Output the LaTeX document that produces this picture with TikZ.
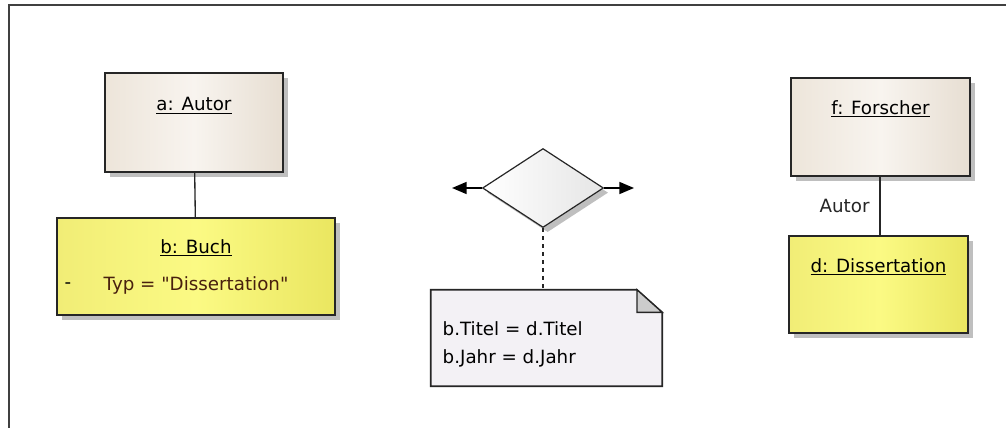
\documentclass[tikz,border=0pt]{standalone}
\usepackage{fontspec}
\setmainfont{DejaVu Sans}
\usetikzlibrary{shapes.geometric, arrows.meta, shadows, positioning}
\definecolor{beigeL}{RGB}{237,229,218}
\definecolor{beigeM}{RGB}{248,244,239}
\definecolor{beigeR}{RGB}{231,222,210}
\definecolor{gelbL}{RGB}{241,237,118}
\definecolor{gelbM}{RGB}{251,250,132}
\definecolor{gelbR}{RGB}{234,230,96}
\definecolor{notiz}{RGB}{243,241,245}
\definecolor{attr}{RGB}{72,32,14}
\tikzstyle{every node} = [align = center, font = \fontsize{13.7}{16}\selectfont]
\tikzstyle{schatten} = [drop shadow = {shadow xshift = 3.5pt, shadow yshift = -3.5pt, fill = black, opacity = .25}]
\tikzstyle{objekt} = [rectangle, draw = black!85, line width = 1.3pt, inner sep = 0, schatten]
\tikzstyle{klasse} = [objekt, left color = beigeL, right color = beigeR, middle color = beigeM]
\tikzstyle{instanz} = [objekt, left color = gelbL, right color = gelbR, middle color = gelbM]
\tikzstyle{linie} = [line width = 1pt, black!85]
\tikzstyle{pfeil} = [line width = 1.2pt, -{Triangle[length = 11pt, width = 9pt]}]

\begin{document}
\begin{tikzpicture}[x = 0.75pt, y = -0.75pt]
        \useasboundingbox [fill = white] (0, 0) rectangle (1006, 431);
        \draw [line width = 1.5pt, black!75] (1006, 5) -- (9, 5) -- (9, 428);
        % linke Seite
        \node [klasse, minimum width = 133.5pt, minimum height = 74.25pt] (autor) at (194, 122.5) {};
        \node (autortitel) at ([yshift = -25pt] autor.north) {\underline{a: Autor}};
        \node [instanz, minimum width = 208.5pt, minimum height = 72.75pt] (buch) at (196, 266.5) {};
        \node (buchtitel) at ([yshift = -23pt] buch.north) {\underline{b: Buch}};
        \node (minus) at (68, 286) {-};
        \node [anchor = west, text = attr] (typ) at (99, 285) {Typ = \textquotedbl Dissertation\textquotedbl};
        \draw [linie] (autor) -- (buch);
        % Mitte
        \node [diamond, draw = black!85, line width = .9pt, inner sep = 0, minimum width = 90.75pt, minimum height = 59.25pt,
               left color = white, right color = black!10, schatten] (bedingung) at (543, 188) {};
        \coordinate (links) at (452, 188);
        \coordinate (rechts) at (634, 188);
        \draw [pfeil] (bedingung.west) -- (links);
        \draw [pfeil] (bedingung.east) -- (rechts);
        \node [minimum width = 173.25pt, minimum height = 72pt, inner sep = 0] (notiz) at (546.5, 338) {};
        \draw [line width = 1.2pt, black!85, fill = notiz] (notiz.north west) -- ([xshift = -19pt] notiz.north east)
            -- ([yshift = -17pt] notiz.north east) -- (notiz.south east) -- (notiz.south west) -- cycle;
        \draw [line width = 1pt, black!85, fill = black!20] ([xshift = -19pt] notiz.north east)
            -- ([xshift = -19pt, yshift = -17pt] notiz.north east) -- ([yshift = -17pt] notiz.north east) -- cycle;
        \node [anchor = west, align = left, font = \fontsize{13.7}{21}\selectfont] (notiztext) at (438, 344)
            {b.Titel = d.Titel\\b.Jahr = d.Jahr};
        \draw [linie, dashed] (bedingung.south) -- (bedingung.south |- notiz.north);
        % rechte Seite
        \node [klasse, minimum width = 134.25pt, minimum height = 73.5pt] (forscher) at (880.5, 127) {};
        \node (forschertitel) at ([yshift = -24pt] forscher.north) {\underline{f: Forscher}};
        \node [instanz, minimum width = 134.25pt, minimum height = 72.75pt] (diss) at (878.5, 284.5) {};
        \node (disstitel) at ([yshift = -24pt] diss.north) {\underline{d: Dissertation}};
        \draw [linie] (forscher.south -| 880, 0) -- (diss.north -| 880, 0) node [midway, left = 4pt] (rolle) {Autor};
    \end{tikzpicture}
\end{document}
